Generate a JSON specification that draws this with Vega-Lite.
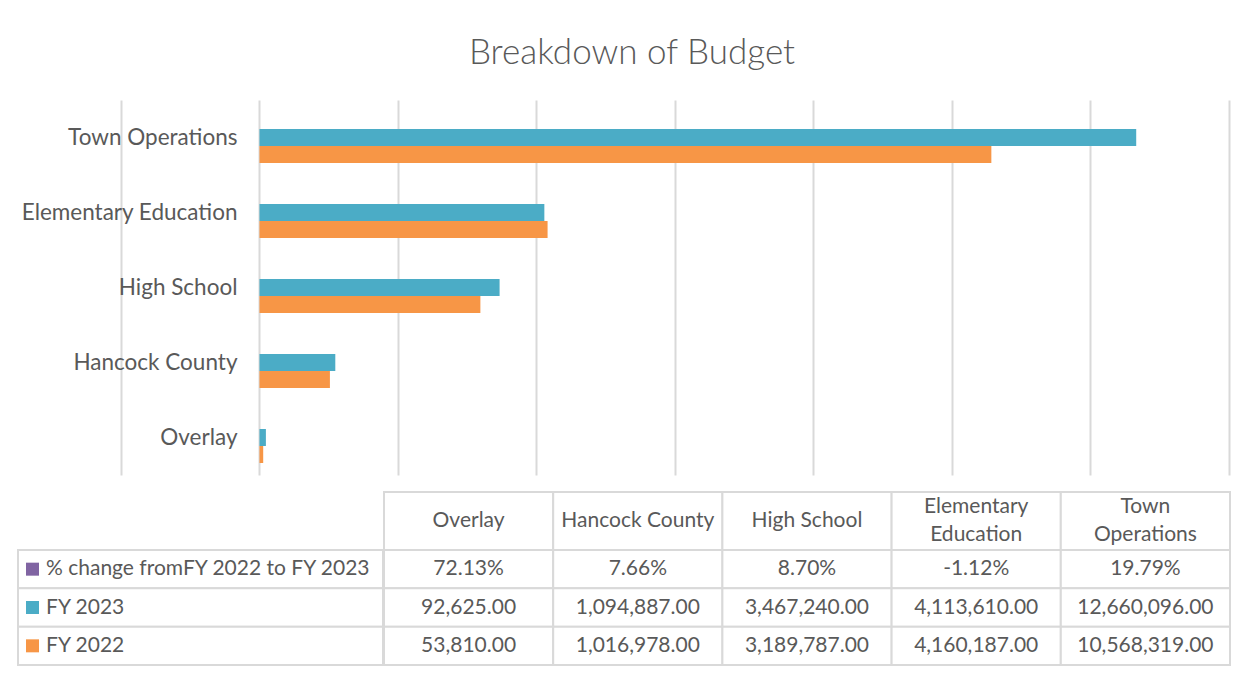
{
  "$schema": "https://vega.github.io/schema/vega-lite/v6.json",
  "padding": {"left": 17, "top": 36, "right": 22, "bottom": 12},
  "background": "white",
  "title": {"text": "Breakdown of Budget", "font": "Lato", "fontSize": 35, "fontWeight": 300, "color": "#595959", "anchor": "middle", "baseline": "top", "offset": 29, "dx": 8},
  "datasets": {
    "budget": [
      {"category": "Overlay", "series": "% change fromFY 2022 to FY 2023", "value": 0.7213},
      {"category": "Hancock County", "series": "% change fromFY 2022 to FY 2023", "value": 0.0766},
      {"category": "High School", "series": "% change fromFY 2022 to FY 2023", "value": 0.087},
      {"category": "Elementary Education", "series": "% change fromFY 2022 to FY 2023", "value": -0.0112},
      {"category": "Town Operations", "series": "% change fromFY 2022 to FY 2023", "value": 0.1979},
      {"category": "Overlay", "series": "FY 2023", "value": 92625},
      {"category": "Hancock County", "series": "FY 2023", "value": 1094887},
      {"category": "High School", "series": "FY 2023", "value": 3467240},
      {"category": "Elementary Education", "series": "FY 2023", "value": 4113610},
      {"category": "Town Operations", "series": "FY 2023", "value": 12660096},
      {"category": "Overlay", "series": "FY 2022", "value": 53810},
      {"category": "Hancock County", "series": "FY 2022", "value": 1016978},
      {"category": "High School", "series": "FY 2022", "value": 3189787},
      {"category": "Elementary Education", "series": "FY 2022", "value": 4160187},
      {"category": "Town Operations", "series": "FY 2022", "value": 10568319}
    ],
    "headers": [
      {"category": "Overlay", "lines": ["Overlay"]},
      {"category": "Hancock County", "lines": ["Hancock County"]},
      {"category": "High School", "lines": ["High School"]},
      {"category": "Elementary Education", "lines": ["Elementary", "Education"]},
      {"category": "Town Operations", "lines": ["Town", "Operations"]}
    ]
  },
  "spacing": 16,
  "bounds": "full",
  "vconcat": [
    {
      "width": 1211,
      "height": 375,
      "data": {"name": "budget"},
      "transform": [{"filter": "datum.series !== '% change fromFY 2022 to FY 2023'"}],
      "layer": [
        {
          "mark": {"type": "bar"},
          "encoding": {
            "y": {"field": "category", "type": "nominal", "sort": ["Town Operations", "Elementary Education", "High School", "Hancock County", "Overlay"], "scale": {"paddingInner": 0.32, "paddingOuter": 0.16}, "axis": null},
            "yOffset": {"field": "series", "type": "nominal", "scale": {"domain": ["% change fromFY 2022 to FY 2023", "FY 2023", "FY 2022"], "paddingInner": 0, "paddingOuter": 0}},
            "x": {"field": "value", "type": "quantitative", "scale": {"domain": [-3487000, 14000000], "nice": false, "zero": false},
              "axis": {"values": [-2000000, 0, 2000000, 4000000, 6000000, 8000000, 10000000, 12000000, 14000000], "grid": true, "gridColor": "#D9D9D9", "gridWidth": 2, "labels": false, "ticks": false, "domain": false, "title": null}},
            "color": {"field": "series", "type": "nominal", "scale": {"domain": ["% change fromFY 2022 to FY 2023", "FY 2023", "FY 2022"], "range": ["#8064A2", "#4BACC6", "#F79646"]}, "legend": null}
          }
        },
        {
          "transform": [{"filter": "datum.series === 'FY 2023'"}],
          "mark": {"type": "text", "align": "right", "baseline": "middle", "dx": -22, "font": "Lato", "fontSize": 22.5, "color": "#595959"},
          "encoding": {
            "y": {"field": "category", "type": "nominal", "sort": ["Town Operations", "Elementary Education", "High School", "Hancock County", "Overlay"]},
            "x": {"datum": 0, "type": "quantitative"},
            "text": {"field": "category"}
          }
        }
      ]
    },
    {
      "spacing": -2,
      "bounds": "full",
      "hconcat": [
        {
          "spacing": 0,
          "bounds": "flush",
          "vconcat": [
            {"width": 365, "height": 58, "data": {"values": [{}]}, "mark": {"type": "point", "opacity": 0}, "encoding": {}},
            {
              "width": 365,
              "height": 115,
              "data": {"name": "budget"},
              "transform": [{"filter": "datum.category === 'Overlay'"}],
              "encoding": {
                "y": {"field": "series", "type": "nominal", "sort": ["% change fromFY 2022 to FY 2023", "FY 2023", "FY 2022"], "scale": {"paddingInner": 0, "paddingOuter": 0}, "axis": null}
              },
              "layer": [
                {"mark": {"type": "rect", "fill": "white", "stroke": "#D9D9D9", "strokeWidth": 2}},
                {"mark": {"type": "point", "shape": "square", "filled": true, "size": 169, "opacity": 1, "xOffset": 14.5},
                  "encoding": {"x": {"value": 0},
                    "color": {"field": "series", "type": "nominal", "scale": {"domain": ["% change fromFY 2022 to FY 2023", "FY 2023", "FY 2022"], "range": ["#8064A2", "#4BACC6", "#F79646"]}, "legend": null}}},
                {"mark": {"type": "text", "align": "left", "baseline": "middle", "dx": 28, "font": "Lato", "fontSize": 21, "color": "#595959"},
                  "encoding": {"x": {"value": 0}, "text": {"field": "series"}}}
              ]
            }
          ]
        },
        {
          "spacing": 0,
          "bounds": "flush",
          "vconcat": [
            {
              "width": 846,
              "height": 58,
              "data": {"name": "headers"},
              "encoding": {
                "x": {"field": "category", "type": "nominal", "sort": ["Overlay", "Hancock County", "High School", "Elementary Education", "Town Operations"], "scale": {"paddingInner": 0, "paddingOuter": 0}, "axis": null}
              },
              "layer": [
                {"mark": {"type": "rect", "fill": "white", "stroke": "#D9D9D9", "strokeWidth": 2}},
                {"transform": [{"filter": "length(datum.lines) === 1"}],
                  "mark": {"type": "text", "baseline": "middle", "font": "Lato", "fontSize": 21, "color": "#595959"},
                  "encoding": {"text": {"field": "lines"}}},
                {"transform": [{"filter": "length(datum.lines) === 2"}],
                  "mark": {"type": "text", "baseline": "middle", "dy": -14, "font": "Lato", "fontSize": 21, "color": "#595959", "lineHeight": 28},
                  "encoding": {"text": {"field": "lines"}}}
              ]
            },
            {
              "width": 846,
              "height": 115,
              "data": {"name": "budget"},
              "encoding": {
                "x": {"field": "category", "type": "nominal", "sort": ["Overlay", "Hancock County", "High School", "Elementary Education", "Town Operations"], "scale": {"paddingInner": 0, "paddingOuter": 0}, "axis": null},
                "y": {"field": "series", "type": "nominal", "sort": ["% change fromFY 2022 to FY 2023", "FY 2023", "FY 2022"], "scale": {"paddingInner": 0, "paddingOuter": 0}, "axis": null}
              },
              "layer": [
                {"mark": {"type": "rect", "fill": "white", "stroke": "#D9D9D9", "strokeWidth": 2}},
                {"transform": [{"filter": "datum.series === '% change fromFY 2022 to FY 2023'"}],
                  "mark": {"type": "text", "baseline": "middle", "font": "Lato", "fontSize": 21, "color": "#595959"},
                  "encoding": {"text": {"field": "value", "type": "quantitative", "format": ".2%"}}},
                {"transform": [{"filter": "datum.series !== '% change fromFY 2022 to FY 2023'"}],
                  "mark": {"type": "text", "baseline": "middle", "font": "Lato", "fontSize": 21, "color": "#595959"},
                  "encoding": {"text": {"field": "value", "type": "quantitative", "format": ",.2f"}}}
              ]
            }
          ]
        }
      ]
    }
  ],
  "config": {
    "view": {"stroke": null},
    "font": "Lato",
    "locale": {"number": {"decimal": ".", "thousands": ",", "grouping": [3], "currency": ["$", ""], "minus": "-"}}
  }
}
